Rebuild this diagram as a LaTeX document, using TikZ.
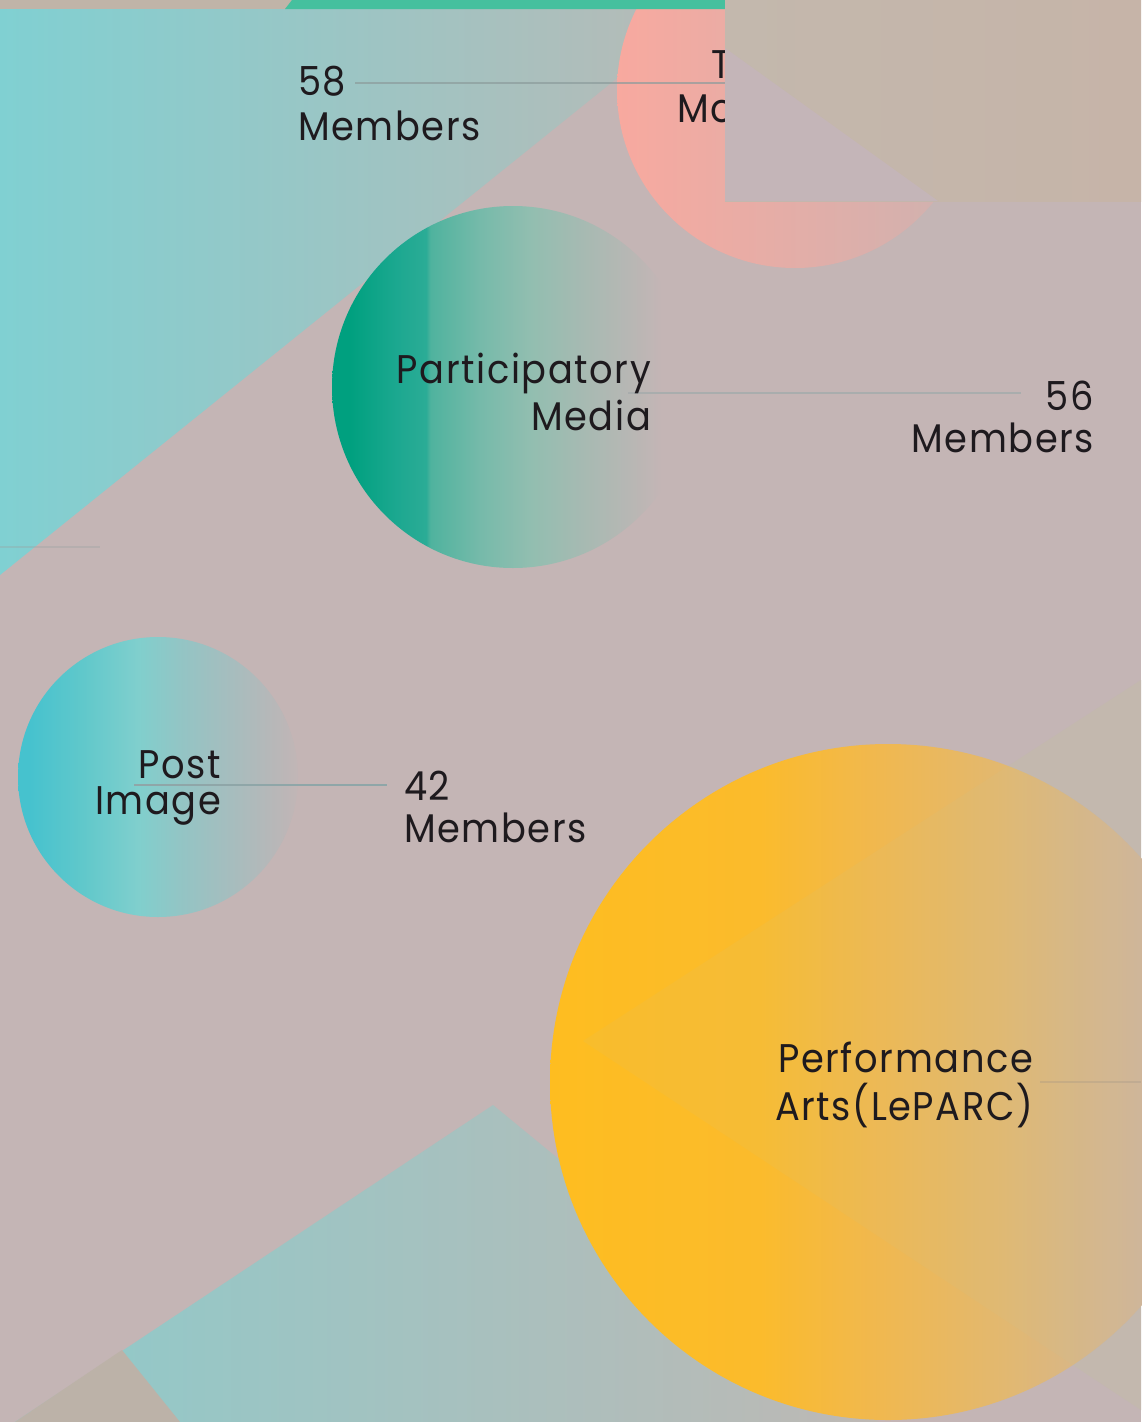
\documentclass[tikz,border=0pt]{standalone}
\usepackage{fontspec}
\setmainfont{Poppins}[FakeStretch=0.92, LetterSpace=4]
\definecolor{bgc}{HTML}{C4B5B5}
\definecolor{textc}{HTML}{1E1A1E}
\definecolor{beigec}{HTML}{C0B4A8}
\definecolor{greentop}{HTML}{45C09E}
\definecolor{wedgec}{HTML}{C3B8AE}
\definecolor{connc}{HTML}{9AA3A3}
\definecolor{tealL}{HTML}{80D0D2}
\definecolor{tealR}{HTML}{B8BAB6}
\definecolor{teal2L}{HTML}{8ECACA}
\definecolor{teal2R}{HTML}{BEB8B4}
\definecolor{beige2}{HTML}{BCB2A8}
\definecolor{pinkL}{HTML}{F8A99F}
\definecolor{pinkR}{HTML}{CEB2B0}
\definecolor{conn58}{HTML}{8C9C9C}
\definecolor{patchL}{HTML}{C3B8AD}
\definecolor{patchR}{HTML}{C6B4A8}
\definecolor{patchT}{HTML}{C4B5B8}
\definecolor{conn56}{HTML}{A9ADAD}
\definecolor{conn42}{HTML}{8FA6A8}
\definecolor{wedgeov}{HTML}{BEC8AA}
\definecolor{connpa}{HTML}{968C82}
% green bubble stops
\definecolor{g1}{HTML}{00A07F}
\definecolor{g2}{HTML}{1CA890}
\definecolor{g3}{HTML}{2BAC96}
\definecolor{g4}{HTML}{4FB39E}
\definecolor{g5}{HTML}{76BAAA}
\definecolor{g6}{HTML}{92BEB0}
\definecolor{g7}{HTML}{A6BAB2}
\definecolor{g8}{HTML}{B7B7B4}
\pgfdeclarehorizontalshading{greensh}{100bp}{color(0bp)=(g1); color(27.5bp)=(g1); color(34bp)=(g2); color(38bp)=(g3); color(38.6bp)=(g4); color(45.5bp)=(g5); color(52.5bp)=(g6); color(59.5bp)=(g7); color(66bp)=(g8); color(70.5bp)=(bgc); color(100bp)=(bgc)}
% cyan bubble stops
\definecolor{c1}{HTML}{46C2CE}
\definecolor{c2}{HTML}{60C8CB}
\definecolor{c3}{HTML}{80CFCD}
\definecolor{c4}{HTML}{94C4C4}
\definecolor{c5}{HTML}{A6BDBE}
\definecolor{c6}{HTML}{B8B7B8}
\pgfdeclarehorizontalshading{cyansh}{100bp}{color(0bp)=(c1); color(27bp)=(c1); color(36.5bp)=(c2); color(46.5bp)=(c3); color(54.5bp)=(c4); color(63bp)=(c5); color(71bp)=(c6); color(76bp)=(bgc); color(100bp)=(bgc)}
% yellow bubble stops
\definecolor{y1}{HTML}{FEBD20}
\definecolor{y2}{HTML}{FBBB2C}
\definecolor{y3}{HTML}{F0B850}
\definecolor{y4}{HTML}{E2B870}
\definecolor{y5}{HTML}{D0B59A}
\definecolor{y6}{HTML}{C8B4A8}
\pgfdeclarehorizontalshading{yellowsh}{100bp}{color(0bp)=(y1); color(25bp)=(y1); color(40.5bp)=(y2); color(49.5bp)=(y3); color(58.5bp)=(y4); color(69bp)=(y5); color(75bp)=(y6); color(100bp)=(y6)}
\tikzset{
  lbl/.style={inner sep=0pt, outer sep=0pt, text=textc, font=\fontsize{40}{44}\selectfont},
  conn/.style={draw=connc, line width=1.6pt},
  bubble/.style={circle, inner sep=0pt, outer sep=0pt, draw=none},
}
\begin{document}
\begin{tikzpicture}[x=1pt,y=-1pt]
\useasboundingbox (0,0) rectangle (1141,1422);
% background
\fill[bgc] (0,0) rectangle (1141,1422);
% top-left strip
\fill[beigec] (0,0) rectangle (292,10);
% top-left teal triangle
\shade[left color=tealL, right color=tealR] (0,9) -- (703,9) -- (0,575) -- cycle;
% right wedge
\fill[wedgec] (583,1041) -- (1141,680) -- (1141,1410) -- cycle;
% bottom teal triangle
\shade[left color=teal2L, right color=teal2R] (493,1105) -- (879,1422) -- (15,1422) -- cycle;
\fill[beige2] (122,1350) -- (180,1422) -- (15,1422) -- cycle;
% faint connector stub from off-page
\coordinate (stubLa) at (0,547);
\coordinate (stubLb) at (100,547);
\draw[connc, line width=1.2pt, opacity=0.35] (stubLa) -- (stubLb);

% pink bubble (partly hidden)
\node[bubble, minimum size=356pt, left color=pinkL, right color=pinkR] (tm) at (795,90) {};
% green top strip over it
\fill[greentop] (292,0) -- (725,0) -- (725,9) -- (285,9) -- cycle;
\coordinate (c58a) at (355,83);
\coordinate (c58b) at (725,83);
\draw[conn, draw=conn58, opacity=0.7] (c58a) -- (c58b);
\node[lbl, anchor=base west] (n58) at (298,95) {58};
\node[lbl, anchor=base west] (m58) at (298,140) {Members};
\node[lbl, anchor=base west] (tm1) at (711,78) {T};
\node[lbl, anchor=base west] (tm2) at (677,122) {Mo};
% top-right patch
\shade[left color=patchL, right color=patchR] (725,0) rectangle (1141,201);
\fill[patchT] (725,48) -- (938,201) -- (725,201) -- cycle;

% participatory media bubble
\node[bubble, shade, shading=greensh, minimum size=362pt] (pm) at (513,387) {};
\coordinate (c56a) at (628,393);
\coordinate (c56b) at (1021,393);
\draw[conn, draw=conn56] (c56a) -- (c56b);
\node[lbl, anchor=base east] (pm1) at (651,383) {Participatory};
\node[lbl, anchor=base east] (pm2) at (651,430) {Media};
\node[lbl, anchor=base east] (n56) at (1094,410) {56};
\node[lbl, anchor=base east] (m56) at (1094,452) {Members};

% post image bubble
\node[bubble, shade, shading=cyansh, minimum size=280pt] (pi) at (158,777) {};
\coordinate (c42a) at (134,785);
\coordinate (c42b) at (387,785);
\draw[conn, draw=conn42, line width=1.4pt] (c42a) -- (c42b);
\node[lbl, anchor=base east] (pi1) at (221,778) {Post};
\node[lbl, anchor=base east] (pi2) at (221,814) {Image};
\node[lbl, anchor=base west] (n42) at (404,800) {42};
\node[lbl, anchor=base west] (m42) at (404,842) {Members};

% performance arts bubble
\node[bubble, shade, shading=yellowsh, minimum size=676pt] (pa) at (888,1082) {};
\begin{scope}
  \clip (888,1082) circle (338pt);
  \fill[wedgeov, opacity=0.08] (583,1041) -- (1141,680) -- (1141,1410) -- cycle;
\end{scope}
\coordinate (cpaa) at (1040,1082);
\coordinate (cpab) at (1141,1082);
\draw[conn, draw=connpa, opacity=0.25] (cpaa) -- (cpab);
\node[lbl, anchor=base east] (pa1) at (1033,1072) {Performance};
\node[lbl, anchor=base east] (pa2) at (1033,1120) {Arts(LePARC)};
\end{tikzpicture}
\end{document}
